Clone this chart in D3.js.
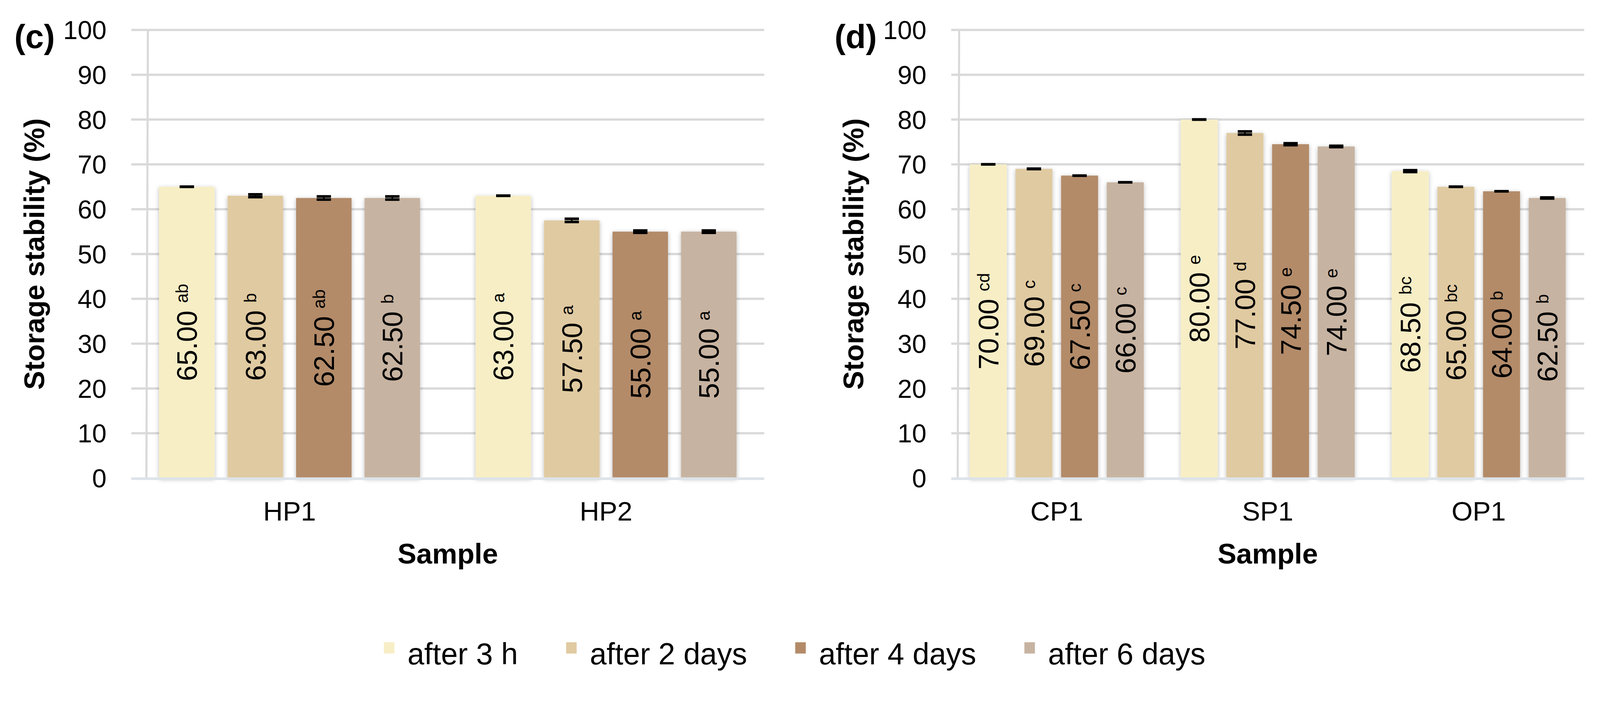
<!DOCTYPE html>
<html>
<head>
<meta charset="utf-8">
<script src="https://cdn.jsdelivr.net/npm/d3@7/dist/d3.min.js"></script>
<style>
  html, body { margin: 0; padding: 0; background: #ffffff; overflow: hidden; width: 100%; height: 100%; }
  svg { display: block; width: 100vw; height: 100vh; }
  text { font-family: Arial, "Liberation Sans", Helvetica, sans-serif; fill: #000; }
</style>
</head>
<body>
<svg id="chart" viewBox="0 0 4252 1804" preserveAspectRatio="xMidYMin meet"></svg>
<script>
// ---------------- data ----------------
const seriesNames  = ["after 3 h", "after 2 days", "after 4 days", "after 6 days"];
const seriesColors = ["#F7EEC6", "#E0CAA1", "#B38B69", "#C7B3A1"];

const yTicks = [0, 10, 20, 30, 40, 50, 60, 70, 80, 90, 100];

// panel (c)
const catsC    = ["HP1", "HP2"];
const valuesC  = [[65.00, 63.00, 62.50, 62.50], [63.00, 57.50, 55.00, 55.00]];
const lettersC = [["ab", "b", "ab", "b"], ["a", "a", "a", "a"]];
const errorsC  = [[0.0, 0.3, 0.35, 0.35], [0.0, 0.35, 0.25, 0.25]];

// panel (d)
const catsD    = ["CP1", "SP1", "OP1"];
const valuesD  = [[70.00, 69.00, 67.50, 66.00], [80.00, 77.00, 74.50, 74.00], [68.50, 65.00, 64.00, 62.50]];
const lettersD = [["cd", "c", "c", "c"], ["e", "d", "e", "e"], ["bc", "bc", "b", "b"]];
const errorsD  = [[0.0, 0.05, 0.0, 0.0], [0.0, 0.35, 0.2, 0.15], [0.2, 0.0, 0.0, 0.1]];

const panelTags = ["(c)", "(d)"];
const yTitle = "Storage stability (%)";
const xTitle = "Sample";

// ---------------- drawing ----------------
const svg = d3.select("#chart");
svg.append("rect").attr("width", 4252).attr("height", 1804).attr("fill", "#fff");

const defs = svg.append("defs");
const f = defs.append("filter").attr("id", "shadow")
  .attr("x", "-30%").attr("y", "-10%").attr("width", "160%").attr("height", "120%");
f.append("feDropShadow").attr("dx", 0).attr("dy", 3).attr("stdDeviation", 6)
  .attr("flood-color", "#000").attr("flood-opacity", 0.28);

const yTop = 79.5, yBottom = 1270;
const y = d3.scaleLinear().domain([0, 100]).range([yBottom, yTop]);

function drawPanel(cfg) {
  const g = svg.append("g");
  const { x0, x1, cats, values, letters, errors, tag, axisOffset } = cfg;

  // gridlines
  g.selectAll("line.grid").data(yTicks.filter(t => t > 0)).join("line")
    .attr("x1", x0).attr("x2", x1)
    .attr("y1", d => y(d)).attr("y2", d => y(d))
    .attr("stroke", "#d9d9d9").attr("stroke-width", 6);

  // vertical axis line
  g.append("line")
    .attr("x1", x0 + axisOffset).attr("x2", x0 + axisOffset - 4)
    .attr("y1", y(100)).attr("y2", y(0))
    .attr("stroke", "#d9d9d9").attr("stroke-width", 5.5);

  // tick labels
  g.selectAll("text.tick").data(yTicks).join("text")
    .attr("x", x0 - 66).attr("y", d => y(d)).attr("dy", "0.355em")
    .attr("text-anchor", "end").attr("font-size", 69)
    .text(d => d);

  // scales
  const xCat = d3.scaleBand().domain(cats).range([x0, x1]).paddingInner(0).paddingOuter(0);
  const bw = xCat.bandwidth();
  const gapRatio = 0.235;
  const w = bw / (5 + 3 * gapRatio);
  const gap = gapRatio * w;
  const outer = (bw - 4 * w - 3 * gap) / 2;
  const xSer = d3.scaleBand().domain(d3.range(4)).range([outer, bw - outer])
    .paddingInner(gap / (w + gap)).paddingOuter(0);

  const rows = [];
  cats.forEach((c, i) => values[i].forEach((v, j) => rows.push({
    cat: c, s: j, v, letter: letters[i][j], e: errors[i][j]
  })));

  // bars
  g.append("g").selectAll("rect").data(rows).join("rect")
    .attr("x", d => xCat(d.cat) + xSer(d.s))
    .attr("width", xSer.bandwidth())
    .attr("y", d => y(d.v))
    .attr("height", d => y(0) - y(d.v))
    .attr("fill", d => seriesColors[d.s])
    .attr("filter", "url(#shadow)");

  // x axis line
  g.append("line").attr("x1", x0).attr("x2", x1)
    .attr("y1", y(0) + 1.5).attr("y2", y(0) + 1.5)
    .attr("stroke", "#dde3e9").attr("stroke-width", 7);

  // error bars
  const eb = g.append("g").attr("stroke", "#000");
  rows.forEach(d => {
    const cx = xCat(d.cat) + xSer(d.s) + xSer.bandwidth() / 2;
    const capW = 38;
    eb.append("line").attr("x1", cx).attr("x2", cx)
      .attr("y1", y(d.v + d.e)).attr("y2", y(d.v - d.e)).attr("stroke-width", 4);
    [d.v + d.e, d.v - d.e].forEach(val => {
      eb.append("line").attr("x1", cx - capW / 2).attr("x2", cx + capW / 2)
        .attr("y1", y(val)).attr("y2", y(val)).attr("stroke-width", 7);
    });
  });

  // value labels (rotated)
  rows.forEach(d => {
    const cx = xCat(d.cat) + xSer(d.s) + xSer.bandwidth() / 2;
    const t = g.append("text")
      .attr("transform", `translate(${cx + 27},${y(d.v / 2)}) rotate(-90)`)
      .attr("text-anchor", "middle").attr("font-size", 75);
    t.append("tspan").text(d.v.toFixed(2));
    t.append("tspan").attr("dx", 20).attr("dy", -24).attr("font-size", 46).text(d.letter);
  });

  // category labels
  g.selectAll("text.cat").data(cats).join("text")
    .attr("x", d => xCat(d) + bw / 2).attr("y", 1383)
    .attr("text-anchor", "middle").attr("font-size", 72).text(d => d);

  // x title
  g.append("text").attr("x", (x0 + x1) / 2).attr("y", 1497)
    .attr("text-anchor", "middle").attr("font-size", 75).attr("font-weight", "bold")
    .text(xTitle);

  // y title
  g.append("text")
    .attr("transform", `translate(${cfg.yTitleX},${(yTop + yBottom) / 2}) rotate(-90)`)
    .attr("text-anchor", "middle").attr("font-size", 75).attr("font-weight", "bold")
    .text(yTitle);

  // panel tag
  g.append("text").attr("x", cfg.tagX).attr("y", 128)
    .attr("text-anchor", "middle").attr("font-size", 88).attr("font-weight", "bold")
    .text(tag);
}

drawPanel({ x0: 349, x1: 2031, cats: catsC, values: valuesC, letters: lettersC, errors: errorsC,
            tag: panelTags[0], axisOffset: 44, yTitleX: 117, tagX: 92 });
drawPanel({ x0: 2528, x1: 4210, cats: catsD, values: valuesD, letters: lettersD, errors: errorsD,
            tag: panelTags[1], axisOffset: 21, yTitleX: 2294, tagX: 2274 });

// legend
const leg = svg.append("g");
let lx = 1020;
seriesNames.forEach((name, i) => {
  leg.append("rect").attr("x", lx).attr("y", 1706).attr("width", 28).attr("height", 30)
    .attr("fill", seriesColors[i]);
  const t = leg.append("text").attr("x", lx + 63).attr("y", 1765)
    .attr("font-size", 80).text(name);
  const len = t.node().getComputedTextLength();
  lx = lx + 63 + len + 128;
});
</script>
</body>
</html>
